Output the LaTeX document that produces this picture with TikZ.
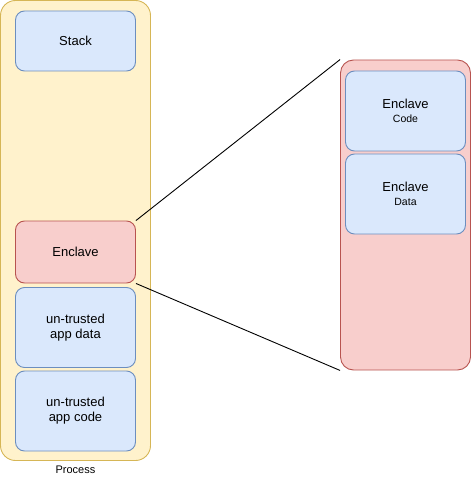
\documentclass[tikz,border=0pt]{standalone}
\usepackage{fontspec}
\setmainfont{Liberation Sans}
\usepackage{tikz}
\usetikzlibrary{positioning}
\definecolor{xyellow}{RGB}{255,242,204}
\definecolor{xyelline}{RGB}{214,182,86}
\definecolor{xblue}{RGB}{218,232,252}
\definecolor{xblueline}{RGB}{108,142,191}
\definecolor{xred}{RGB}{248,206,204}
\definecolor{xredline}{RGB}{184,84,80}

\begin{document}
\begin{tikzpicture}[x=1pt,y=-1pt,line width=0.9pt,font=\fontsize{13}{15}\selectfont]
\tikzset{proc/.style={rectangle,fill=xyellow,draw=xyelline,rounded corners=15pt,inner sep=0pt}}
\tikzset{part/.style={rectangle,fill=xblue,draw=xblueline,rounded corners=9pt,minimum width=120pt,minimum height=60pt,align=center,inner sep=0pt}}
\tikzset{encl/.style={rectangle,fill=xred,draw=xredline,inner sep=0pt}}
\useasboundingbox (0,0) rectangle (471,481);
\node[proc,minimum width=150pt,minimum height=460pt] at (75.5,230.5) (process) {};
\node at (75.5,470) (plabel) {\fontsize{11}{13}\selectfont Process};
\node[part] at (75.5,41) (stack) {Stack};
\node[part,encl,rounded corners=9pt,minimum width=120pt,minimum height=62pt] at (75.5,252) (enclave) {Enclave};
\node[part,minimum height=80pt] at (75.5,327.5) (appdata) {un-trusted\\ app data};
\node[part,minimum height=80pt] at (75.5,411) (appcode) {un-trusted\\ app code};
\node[encl,rounded corners=13pt,minimum width=130pt,minimum height=310pt] at (405.5,215) (bigencl) {};
\node[part,minimum height=80pt] at (405.5,111) (ecode) {Enclave\\[-1pt]{\fontsize{10.5}{12}\selectfont Code}};
\node[part,minimum height=80pt] at (405.5,194) (edata) {Enclave\\[-1pt]{\fontsize{10.5}{12}\selectfont Data}};
\draw (enclave.north east) -- (bigencl.north west);
\draw (enclave.south east) -- (bigencl.south west);
\end{tikzpicture}
\end{document}
